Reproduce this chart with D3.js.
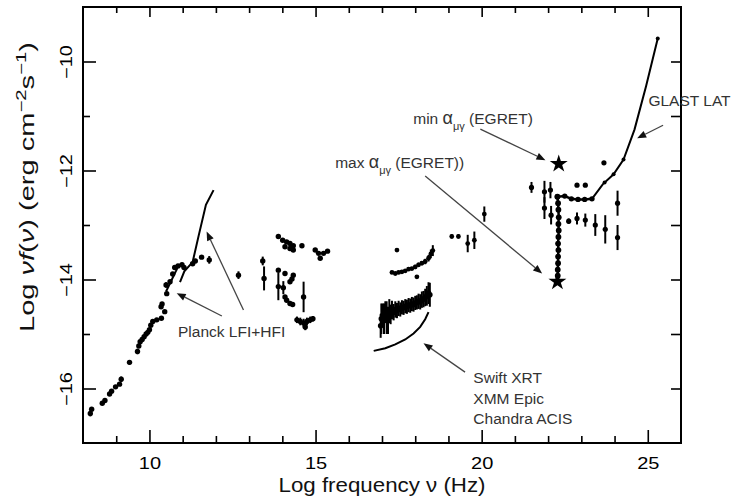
<!DOCTYPE html>
<html><head><meta charset="utf-8">
<script src="https://cdn.jsdelivr.net/npm/d3@7"></script>
<style>body{margin:0;background:#fff}</style>
</head><body>
<svg id="c" width="747" height="499"></svg>
<script>
// ---------- data ----------
const xTicksMajor = [10, 15, 20, 25];
const xTicksMinor = [9, 11, 12, 13, 14, 16, 17, 18, 19, 21, 22, 23, 24];
const yTicksMajor = [-16, -14, -12, -10];
const yTicksMinor = [-15, -13, -11];

// radio / mm points [logNu, logNuFnu, err]
const radioPts = [
  [8.22,-16.46,0.05],[8.26,-16.38,0.04],[8.58,-16.27,0],[8.66,-16.22,0],[8.80,-16.10,0],[8.86,-16.05,0],
  [8.98,-15.97,0],[9.10,-15.92,0],[9.15,-15.83,0.05],[9.40,-15.52,0.04],[9.64,-15.32,0.05],[9.68,-15.22,0],
  [9.72,-15.14,0],[9.78,-15.10,0],[9.84,-15.05,0],[9.90,-15.00,0],[9.95,-14.97,0],[10.00,-14.92,0],
  [10.04,-14.84,0],[10.10,-14.77,0],[10.22,-14.74,0],[10.36,-14.71,0],[10.46,-14.59,0],[10.35,-14.50,0],
  [10.38,-14.45,0],[10.52,-14.26,0.04],[10.50,-14.10,0.05],[10.62,-14.04,0],[10.70,-13.90,0],[10.76,-13.78,0],
  [10.86,-13.75,0],[10.98,-13.73,0],[11.04,-13.78,0],[11.30,-13.71,0],[11.38,-13.66,0],[11.57,-13.59,0],
  [11.80,-13.64,0.07],[12.68,-13.92,0.07]
];
// IR / optical / UV points
const midPts = [
  [13.41,-13.66,0.08],[13.45,-13.98,0.22],[13.88,-13.21,0],[14.01,-13.28,0],[14.13,-13.31,0],[14.23,-13.34,0],
  [14.08,-13.40,0],[14.23,-13.43,0],[14.33,-13.46,0],[14.33,-13.38,0],[14.59,-13.38,0],[14.99,-13.46,0],
  [15.09,-13.52,0],[15.24,-13.52,0],[15.36,-13.48,0],[15.14,-13.61,0],[13.88,-13.83,0],[14.08,-13.89,0],
  [14.33,-13.92,0],[14.29,-13.99,0],[14.23,-14.04,0],[13.88,-14.13,0.25],[14.03,-14.15,0.12],[14.64,-14.32,0.28],
  [14.08,-14.32,0],[14.13,-14.38,0],[14.23,-14.44,0],[14.31,-14.46,0],
  [14.44,-14.74,0.06],[14.54,-14.77,0.07],[14.64,-14.80,0.08],[14.74,-14.77,0.07],[14.84,-14.74,0.06],
  [14.92,-14.72,0.05],[14.69,-14.87,0.06]
];
// X-ray upper band
const xrayHigh = [
  [17.45,-13.46,0],[17.30,-13.87,0.03],[17.40,-13.89,0.03],[17.50,-13.87,0.03],[17.60,-13.86,0.03],[17.70,-13.84,0.03],
  [17.80,-13.81,0.03],[17.90,-13.80,0.03],[18.00,-13.77,0.04],[18.10,-13.73,0.04],[18.20,-13.70,0.04],
  [18.30,-13.67,0.05],[18.40,-13.61,0.06],[18.47,-13.53,0.08],[18.53,-13.47,0.1],[18.05,-13.95,0]
];
// X-ray lower band (spectrum)
const xrayLow = [
  [16.96,-14.85,0.22],[16.98,-14.72,0.28],[17.02,-14.66,0.22],[17.06,-14.72,0.28],[17.10,-14.60,0.2],
  [17.14,-14.70,0.3],[17.18,-14.75,0.25],[17.22,-14.58,0.22],[17.26,-14.64,0.18],[17.30,-14.56,0.17],
  [17.35,-14.60,0.15],[17.40,-14.55,0.15],[17.45,-14.57,0.14],[17.50,-14.53,0.14],[17.55,-14.55,0.13],
  [17.60,-14.51,0.13],[17.65,-14.52,0.13],[17.70,-14.49,0.13],[17.75,-14.50,0.13],[17.80,-14.47,0.13],
  [17.85,-14.48,0.13],[17.90,-14.45,0.13],[17.95,-14.46,0.13],[18.00,-14.43,0.13],[18.05,-14.42,0.13],
  [18.10,-14.40,0.14],[18.15,-14.41,0.14],[18.20,-14.37,0.15],[18.25,-14.36,0.15],[18.30,-14.33,0.16],
  [18.35,-14.30,0.18],[18.40,-14.25,0.2],[18.44,-14.28,0.22]
];
// hard X-ray / soft gamma points
const hxPts = [
  [19.10,-13.21,0.04],[19.30,-13.21,0.04],[19.58,-13.34,0.16],[19.78,-13.28,0.16],[20.08,-12.80,0.14]
];
// gamma points with error bars
const gammaPts = [
  [21.50,-12.31,0.1],[21.89,-12.39,0.2],[21.89,-12.69,0.2],[22.07,-12.36,0.15],[22.09,-12.82,0.17],
  [22.62,-12.93,0.05],[22.87,-12.88,0.11],[23.12,-12.91,0.12],[23.42,-13.00,0.2],[23.72,-13.08,0.26],
  [24.09,-12.60,0.23],[24.09,-13.23,0.23],[22.87,-12.27,0],[23.12,-12.27,0],[23.68,-11.86,0]
];
// EGRET band (horizontal) and column (vertical)
const egretBand = [[22.28,-12.48],[22.50,-12.47],[22.70,-12.52],[22.90,-12.53],[23.10,-12.53],[23.32,-12.52]];
const egretColumn = [[22.28,-12.48],[22.30,-12.60],[22.31,-12.72],[22.32,-12.86],[22.31,-12.98],[22.32,-13.10],
  [22.31,-13.22],[22.30,-13.34],[22.31,-13.46],[22.30,-13.58],[22.30,-13.70],[22.29,-13.82],[22.29,-13.93]];
// sensitivity curves
const planckLFI = [[10.50,-14.22],[10.88,-13.74]];
const planckHFI = [[10.92,-14.05],[11.05,-13.85],[11.30,-13.68],[11.48,-13.20],[11.70,-12.63],[11.93,-12.36]];
const xraySens = [[16.75,-15.31],[17.10,-15.26],[17.40,-15.19],[17.70,-15.10],[17.95,-14.99],[18.15,-14.87],[18.30,-14.73],[18.40,-14.60]];
const glastSens = [[23.32,-12.52],[23.65,-12.25],[23.97,-12.07],[24.27,-11.80],[24.60,-11.25],[24.95,-10.45],[25.30,-9.58]];
const glastDots = [[23.70,-12.22],[23.97,-12.07],[24.27,-11.80],[25.30,-9.58]];
// stars: min and max alpha (EGRET)
const stars = [[22.32,-11.88],[22.28,-14.04]];
// annotation arrows: [x1,y1,x2,y2] in data units (tail -> head)
const arrows = [
  [19.96,-11.24,21.92,-11.81],
  [18.30,-12.10,21.82,-13.89],
  [25.46,-11.17,24.68,-11.41],
  [12.18,-14.67,10.82,-14.25],
  [12.83,-14.56,11.72,-13.12],
  [19.50,-15.70,18.25,-15.17]
];
const swiftLabels = ["Swift XRT","XMM Epic","Chandra ACIS"];

// ---------- chart ----------
const svg = d3.select("#c");
svg.append("rect").attr("width",747).attr("height",499).attr("fill","#fff");
const x = d3.scaleLinear().domain([8,26]).range([83,681]);
const y = d3.scaleLinear().domain([-17,-9]).range([443,7]);
const FONT = "'Liberation Sans', Arial, Helvetica, sans-serif";

function styleAxis(g){
  g.select(".domain").remove();
  g.selectAll(".tick line").attr("stroke","#000").attr("stroke-width",1.6);
}
// bottom
svg.append("g").attr("transform","translate(0,443)")
  .call(d3.axisBottom(x).tickValues(xTicksMajor).tickSize(-13).tickPadding(15).tickFormat(d3.format("d")))
  .call(styleAxis)
  .call(g=>g.selectAll("text").attr("font-family",FONT).attr("font-size",16).attr("fill","#000")
    .attr("transform","scale(1.25,1)"));
svg.append("g").attr("transform","translate(0,443)")
  .call(d3.axisBottom(x).tickValues(xTicksMinor).tickSize(-7).tickFormat(""))
  .call(styleAxis);
// top
svg.append("g").attr("transform","translate(0,7)")
  .call(d3.axisTop(x).tickValues(xTicksMajor).tickSize(-10).tickFormat(""))
  .call(styleAxis);
svg.append("g").attr("transform","translate(0,7)")
  .call(d3.axisTop(x).tickValues(xTicksMinor).tickSize(-6).tickFormat(""))
  .call(styleAxis);
// left
svg.append("g").attr("transform","translate(83,0)")
  .call(d3.axisLeft(y).tickValues(yTicksMajor).tickSize(-13).tickFormat(d3.format("d")))
  .call(styleAxis)
  .call(g=>g.selectAll("text").attr("font-family",FONT).attr("font-size",16).attr("fill","#000")
    .attr("text-anchor","middle").attr("x",0).attr("y",-11).attr("dy",0)
    .attr("transform","rotate(-90) scale(1.25,1)"));
svg.append("g").attr("transform","translate(83,0)")
  .call(d3.axisLeft(y).tickValues(yTicksMinor).tickSize(-7).tickFormat(""))
  .call(styleAxis);
// right
svg.append("g").attr("transform","translate(681,0)")
  .call(d3.axisRight(y).tickValues(yTicksMajor.concat(yTicksMinor)).tickSize(-10).tickFormat(""))
  .call(styleAxis);
// frame
svg.append("rect").attr("x",x(8)).attr("y",y(-9)).attr("width",x(26)-x(8)).attr("height",y(-17)-y(-9))
  .attr("fill","none").attr("stroke","#000").attr("stroke-width",2);

// axis labels
svg.append("text").attr("x",382).attr("y",492).attr("text-anchor","middle")
  .attr("font-family",FONT).attr("font-size",20).attr("fill","#111")
  .attr("textLength",207).attr("lengthAdjust","spacingAndGlyphs")
  .text("Log frequency \u03BD (Hz)");
const yl = svg.append("text").attr("transform","translate(34,187) rotate(-90)").attr("text-anchor","middle")
  .attr("font-family",FONT).attr("font-size",20).attr("fill","#111")
  .attr("textLength",290).attr("lengthAdjust","spacingAndGlyphs");
yl.append("tspan").text("Log  ");
yl.append("tspan").attr("font-style","italic").text("\u03BDf");
yl.append("tspan").text("(");
yl.append("tspan").attr("font-style","italic").text("\u03BD");
yl.append("tspan").text(")  (erg cm");
yl.append("tspan").attr("dy",-8).attr("font-size",14).text("\u22122");
yl.append("tspan").attr("dy",8).text("s");
yl.append("tspan").attr("dy",-8).attr("font-size",14).text("\u22121");
yl.append("tspan").attr("dy",8).text(")");

// lines
const line = d3.line().x(d=>x(d[0])).y(d=>y(d[1]));
[planckLFI, planckHFI, xraySens, glastSens].forEach(L=>{
  svg.append("path").attr("d",line(L)).attr("fill","none").attr("stroke","#000").attr("stroke-width",2);
});
[egretBand, egretColumn].forEach(L=>{
  svg.append("path").attr("d",line(L)).attr("fill","none").attr("stroke","#000").attr("stroke-width",2.5);
});

// points with error bars
function drawPts(data, r){
  const g = svg.append("g");
  g.selectAll("line").data(data.filter(d=>d[2]>0)).join("line")
    .attr("x1",d=>x(d[0])).attr("x2",d=>x(d[0]))
    .attr("y1",d=>y(d[1]-d[2])).attr("y2",d=>y(d[1]+d[2]))
    .attr("stroke","#000").attr("stroke-width",2);
  g.selectAll("circle").data(data).join("circle")
    .attr("cx",d=>x(d[0])).attr("cy",d=>y(d[1])).attr("r",r).attr("fill","#000");
}
drawPts(radioPts, 2.7);
drawPts(midPts, 2.7);
drawPts(xrayHigh, 2.4);
drawPts(xrayLow, 2.8);
drawPts(hxPts, 2.4);
drawPts(gammaPts, 2.6);
drawPts(egretBand.map(d=>[d[0],d[1],0.03]), 2.7);
drawPts(egretColumn.map(d=>[d[0],d[1],0.03]), 2.9);
drawPts(glastDots.map(d=>[d[0],d[1],0]), 2);

// stars
svg.selectAll("path.star").data(stars).join("path").attr("class","star")
  .attr("transform",d=>`translate(${x(d[0])},${y(d[1])})`)
  .attr("d",d3.symbol(d3.symbolStar,100)).attr("fill","#000");

// arrows
const ag = svg.append("g");
arrows.forEach(a=>{
  const x1=x(a[0]), y1=y(a[1]), x2=x(a[2]), y2=y(a[3]);
  const ang = Math.atan2(y2-y1, x2-x1);
  const L=9, W=3.6;
  const bx = x2 - L*Math.cos(ang), by = y2 - L*Math.sin(ang);
  ag.append("line").attr("x1",x1).attr("y1",y1).attr("x2",bx).attr("y2",by)
    .attr("stroke","#444").attr("stroke-width",1.3);
  ag.append("path").attr("d",`M${x2},${y2}L${bx - W*Math.sin(ang)},${by + W*Math.cos(ang)}L${bx + W*Math.sin(ang)},${by - W*Math.cos(ang)}Z`)
    .attr("fill","#111");
});

// annotation texts
function ann(px, py){
  return svg.append("text").attr("x",x(px)).attr("y",y(py))
    .attr("font-family",FONT).attr("font-size",15.5).attr("fill","#333");
}
let t = ann(17.94,-11.15);
t.append("tspan").text("min ");
t.append("tspan").attr("font-size",18).text("\u03B1");
t.append("tspan").attr("dy",6).attr("font-size",11).text("\u03BC\u03B3");
t.append("tspan").attr("dy",-6).text(" (EGRET)");
t = ann(15.59,-11.96);
t.append("tspan").text("max ");
t.append("tspan").attr("font-size",18).text("\u03B1");
t.append("tspan").attr("dy",6).attr("font-size",11).text("\u03BC\u03B3");
t.append("tspan").attr("dy",-6).text(" (EGRET))");
ann(25.02,-10.82).text("GLAST LAT");
ann(10.86,-15.06).text("Planck LFI+HFI");
swiftLabels.forEach((s,i)=>ann(19.75,[-15.90,-16.28,-16.65][i]).text(s));
</script>
</body></html>
